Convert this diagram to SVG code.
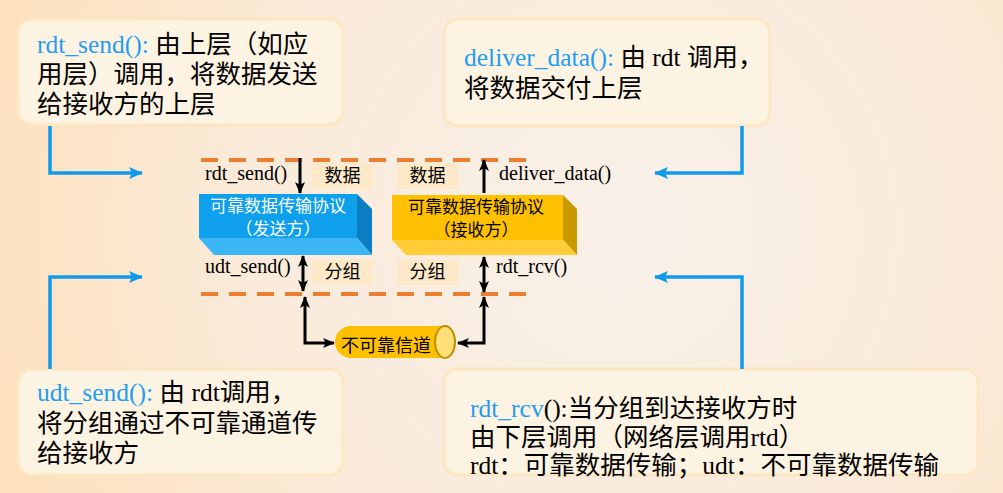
<svg xmlns="http://www.w3.org/2000/svg" width="1003" height="493" viewBox="0 0 1003 493">
<defs>
<radialGradient id="bg" cx="620" cy="230" r="640" gradientUnits="userSpaceOnUse">
<stop offset="0" stop-color="#f8f0e8"/>
<stop offset="0.55" stop-color="#faebdb"/>
<stop offset="1" stop-color="#fde1bf"/>
</radialGradient>
<marker id="ab" markerWidth="12" markerHeight="10" refX="11" refY="5" orient="auto" markerUnits="userSpaceOnUse">
<path d="M0,0 L12,5 L0,10 L3,5 Z" fill="#000"/>
</marker>
<marker id="abs" markerWidth="12" markerHeight="10" refX="1" refY="5" orient="auto" markerUnits="userSpaceOnUse">
<path d="M12,0 L0,5 L12,10 L9,5 Z" fill="#000"/>
</marker>
<marker id="ablue" markerWidth="14" markerHeight="12" refX="13" refY="6" orient="auto" markerUnits="userSpaceOnUse">
<path d="M0,0 L14,6 L0,12 L3,6 Z" fill="#1199ea"/>
</marker>
<style>
.call{fill:#fdf3e2;stroke:#fde6c2;stroke-width:3}
.ct{font-family:"Liberation Serif","Noto Sans CJK SC",serif;font-size:25.5px;fill:#000}
.blue{fill:#1f9df0}
.fn{font-family:"Liberation Serif","Noto Sans CJK SC",serif;font-size:20px;fill:#000}
.lab{fill:#fde9c8}
.lt{font-family:"Noto Sans CJK SC",sans-serif;font-size:18px;fill:#000;text-anchor:middle}
.bt{font-family:"Noto Sans CJK SC",sans-serif;font-size:17px;text-anchor:middle}
.dash{stroke:#ed7d31;stroke-width:4;stroke-dasharray:17 11;fill:none}
.blk{stroke:#000;stroke-width:3;fill:none}
.bl{stroke:#1199ea;stroke-width:3.5;fill:none}
</style>
</defs>
<rect x="0" y="0" width="1003" height="493" fill="url(#bg)"/>

<g id="callout-rdt-send">
<rect class="call" x="18" y="19" width="325" height="106" rx="14"/>
<text class="ct" x="37" y="53"><tspan class="blue">rdt_send():</tspan> 由上层（如应</text>
<text class="ct" x="37" y="83">用层）调用，将数据发送</text>
<text class="ct" x="37" y="113">给接收方的上层</text>
</g>
<g id="callout-deliver">
<rect class="call" x="444" y="19" width="326" height="107" rx="14"/>
<text class="ct" x="464" y="66"><tspan class="blue">deliver_data():</tspan> 由 rdt 调用，</text>
<text class="ct" x="464" y="97">将数据交付上层</text>
</g>
<g id="callout-udt-send">
<rect class="call" x="18" y="369" width="325" height="106" rx="14"/>
<text class="ct" x="37" y="401"><tspan class="blue">udt_send():</tspan> 由 rdt调用，</text>
<text class="ct" x="37" y="432">将分组通过不可靠通道传</text>
<text class="ct" x="37" y="462">给接收方</text>
</g>
<g id="callout-rdt-rcv">
<rect class="call" x="444" y="369" width="534" height="106" rx="14"/>
<text class="ct" x="470" y="417"><tspan class="blue">rdt_rcv</tspan>():当分组到达接收方时</text>
<text class="ct" x="470" y="446">由下层调用（网络层调用rtd）</text>
<text class="ct" x="470" y="474">rdt：可靠数据传输；udt：不可靠数据传输</text>
</g>

<g id="layer-lines">
<line class="dash" x1="201" y1="160" x2="537" y2="160"/>
<line class="dash" x1="201" y1="294" x2="537" y2="294"/>
</g>

<g id="sender">
<polygon points="199,194 357,194 357,238 199,238" fill="#0ea0ec"/>
<polygon points="357,194 372,209 372,255 357,238" fill="#0b7dc2"/>
<polygon points="199,238 357,238 372,255 214,255" fill="#3cb5f5"/>
<text class="bt" x="278" y="212" fill="#fff">可靠数据传输协议</text>
<text class="bt" x="278" y="235" fill="#fff">（发送方）</text>
</g>
<g id="receiver">
<polygon points="392,195 563,195 563,240 392,240" fill="#ffc000"/>
<polygon points="563,195 577,209 577,255 563,240" fill="#c99a00"/>
<polygon points="392,240 563,240 577,255 406,255" fill="#ffcd38"/>
<text class="bt" x="476" y="213" fill="#000">可靠数据传输协议</text>
<text class="bt" x="476" y="236" fill="#000">（接收方）</text>
</g>

<g id="labels">
<text class="fn" x="205" y="180">rdt_send()</text>
<text class="fn" x="499" y="180">deliver_data()</text>
<text class="fn" x="205" y="273">udt_send()</text>
<text class="fn" x="496" y="273">rdt_rcv()</text>
<rect class="lab" x="312" y="163" width="61" height="26"/>
<text class="lt" x="342.5" y="182">数据</text>
<rect class="lab" x="397" y="163" width="61" height="26"/>
<text class="lt" x="427.5" y="182">数据</text>
<rect class="lab" x="312" y="260" width="61" height="25"/>
<text class="lt" x="342.5" y="278">分组</text>
<rect class="lab" x="397" y="260" width="61" height="25"/>
<text class="lt" x="427.5" y="278">分组</text>
</g>

<g id="channel">
<path d="M351,326 L445,326 L445,358 L351,358 A16,16 0 0 1 351,326 Z" fill="#ffc000"/>
<ellipse cx="445" cy="342" rx="10" ry="16" fill="#ffdf78" stroke="#bf9000" stroke-width="2"/>
<text font-family="Noto Sans CJK SC, sans-serif" font-size="18" x="341" y="352" fill="#000">不可靠信道</text>
</g>

<g id="connectors">
<line class="blk" x1="300" y1="158" x2="300" y2="193" marker-end="url(#ab)"/>
<line class="blk" x1="484" y1="193" x2="484" y2="160" marker-end="url(#ab)"/>
<line class="blk" x1="303" y1="256" x2="303" y2="291" marker-start="url(#abs)" marker-end="url(#ab)"/>
<line class="blk" x1="484" y1="257" x2="484" y2="292" marker-start="url(#abs)" marker-end="url(#ab)"/>
<polyline class="blk" points="305,297 305,343 334,343" marker-start="url(#abs)" marker-end="url(#ab)"/>
<polyline class="blk" points="484,297 484,343 458,343" marker-start="url(#abs)" marker-end="url(#ab)"/>
<polyline class="bl" points="50,126 50,173 142,173" marker-end="url(#ablue)"/>
<polyline class="bl" points="742,126 742,173 655,173" marker-end="url(#ablue)"/>
<polyline class="bl" points="50,369 50,277 142,277" marker-end="url(#ablue)"/>
<polyline class="bl" points="742,369 742,277 655,277" marker-end="url(#ablue)"/>
</g>
</svg>
